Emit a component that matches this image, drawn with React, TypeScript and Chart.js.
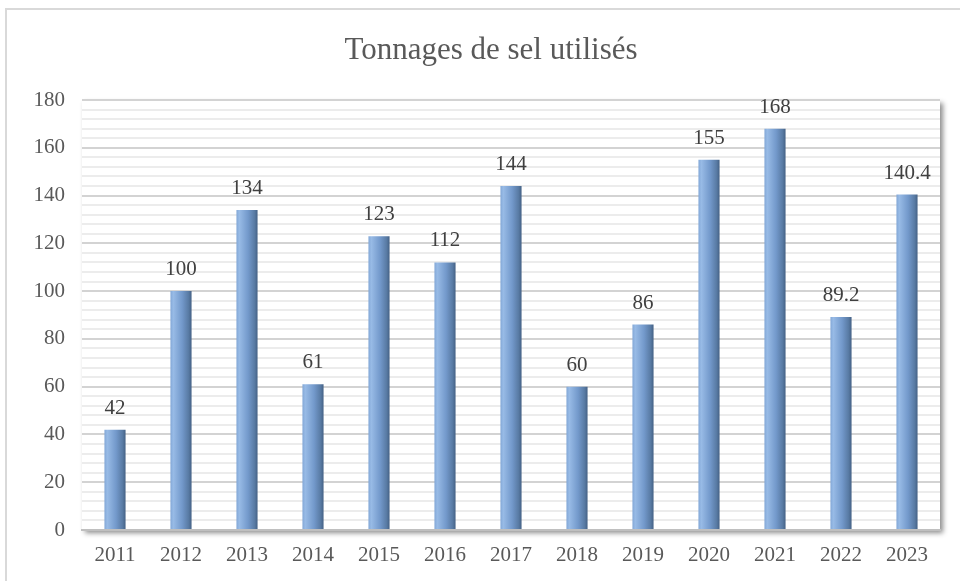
import React, { useEffect, useRef } from "react";
import { Chart, registerables } from "chart.js";
Chart.register(...registerables);

const chartTitle = "Tonnages de sel utilisés";
const years = ["2011", "2012", "2013", "2014", "2015", "2016", "2017", "2018", "2019", "2020", "2021", "2022", "2023"];
const tonnages = [42, 100, 134, 61, 123, 112, 144, 60, 86, 155, 168, 89.2, 140.4];
const yMin = 0;
const yMax = 180;
const yMajorStep = 20;
const yMinorStep = 4;

const SERIF = "'Liberation Serif', 'Times New Roman', serif";

const framePlugin = {
  id: "frameAndPlot",
  beforeDraw(chart: any) {
    const { ctx, chartArea } = chart;
    ctx.save();
    ctx.fillStyle = "#ffffff";
    ctx.fillRect(0, 0, chart.width, chart.height);
    ctx.strokeStyle = "#d9d9d9";
    ctx.lineWidth = 2;
    ctx.strokeRect(6, 9, chart.width + 20, chart.height + 20);
    ctx.shadowColor = "rgba(0,0,0,0.45)";
    ctx.shadowBlur = 5;
    ctx.shadowOffsetX = 3;
    ctx.shadowOffsetY = 3;
    ctx.fillStyle = "#ffffff";
    ctx.fillRect(chartArea.left, chartArea.top, chartArea.right - chartArea.left, chartArea.bottom - chartArea.top);
    ctx.restore();
    ctx.save();
    ctx.fillStyle = "#595959";
    ctx.font = `31px ${SERIF}`;
    ctx.textAlign = "center";
    ctx.textBaseline = "middle";
    ctx.fillText(chartTitle, 491, 51);
    ctx.restore();
  },
};

const labelPlugin = {
  id: "valueLabels",
  afterDatasetsDraw(chart: any) {
    const { ctx } = chart;
    const meta = chart.getDatasetMeta(0);
    ctx.save();
    ctx.fillStyle = "#404040";
    ctx.font = `21px ${SERIF}`;
    ctx.textAlign = "center";
    ctx.textBaseline = "alphabetic";
    meta.data.forEach((bar: any, i: number) => {
      const v = chart.data.datasets[0].data[i];
      ctx.fillText(String(v), bar.x, bar.y - 16);
    });
    ctx.restore();
  },
};

function barGradient(context: any) {
  const chart = context.chart;
  const { ctx, chartArea } = chart;
  if (!chartArea || !chart.scales.x) return "#7ba0d0";
  const cx = chart.scales.x.getPixelForValue(context.dataIndex);
  const half = 11;
  const g = ctx.createLinearGradient(cx - half, 0, cx + half, 0);
  g.addColorStop(0, "#7fa4d4");
  g.addColorStop(0.15, "#98bbe6");
  g.addColorStop(0.55, "#7399cb");
  g.addColorStop(0.85, "#587aa3");
  g.addColorStop(1, "#415d80");
  return g;
}

export default function App() {
  const ref = useRef<HTMLCanvasElement | null>(null);
  useEffect(() => {
    if (!ref.current) return;
    const chart = new Chart(ref.current, {
      type: "bar",
      data: {
        labels: years,
        datasets: [
          {
            data: tonnages,
            backgroundColor: barGradient,
            borderWidth: 0,
            barPercentage: 0.32,
            categoryPercentage: 1,
          },
        ],
      },
      options: {
        responsive: false,
        animation: false,
        layout: { padding: { left: 10, right: 20, top: 100, bottom: 0 } },
        plugins: {
          legend: { display: false },
          title: { display: false },
          tooltip: { enabled: false },
        },
        scales: {
          x: {
            grid: { display: false, drawTicks: false },
            border: { display: true, color: "#bfbfbf", width: 2 },
            ticks: { color: "#595959", font: { family: SERIF, size: 21 }, padding: 13 },
            afterFit: (s: any) => { s.height = 51; },
          },
          y: {
            min: yMin,
            max: yMax,
            afterBuildTicks: (s: any) => {
              const t = [];
              for (let v = yMin; v <= yMax; v += yMinorStep) t.push({ value: v });
              if (t[t.length - 1].value !== yMax) t.push({ value: yMax });
              s.ticks = t;
            },
            grid: {
              drawTicks: false,
              color: (c: any) => (c.tick && c.tick.value % yMajorStep === 0 ? "#d3d3d3" : "#ececec"),
              lineWidth: 2,
            },
            border: { display: false },
            ticks: {
              autoSkip: false,
              color: "#595959",
              font: { family: SERIF, size: 21 },
              padding: 17,
              callback: (v: any) => (Number(v) % yMajorStep === 0 ? String(v) : ""),
            },
            afterFit: (s: any) => { s.width = 72; },
          },
        },
      },
      plugins: [framePlugin, labelPlugin],
    });
    return () => chart.destroy();
  }, []);
  return (
    <div style={{ position: "absolute", left: 0, top: 0, width: 960, height: 581 }}>
      <canvas ref={ref} width={960} height={581} style={{ display: "block" }} />
    </div>
  );
}
